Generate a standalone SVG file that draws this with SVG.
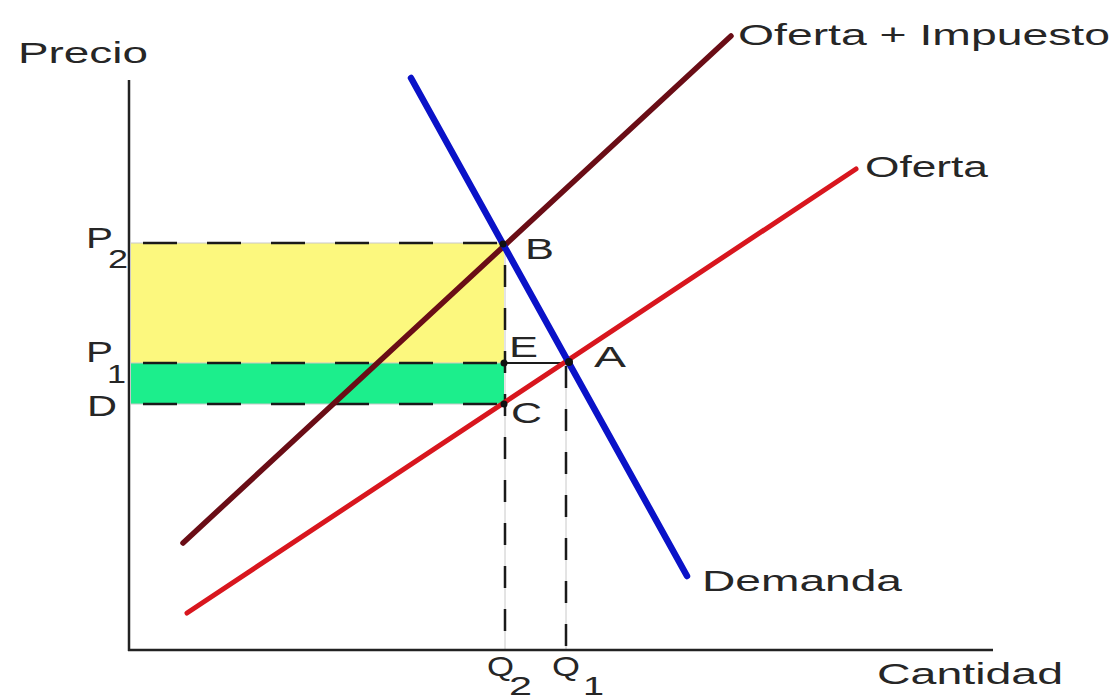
<svg xmlns="http://www.w3.org/2000/svg" width="1118" height="698" viewBox="0 0 1118 698">
<style>
text{font-family:"Liberation Sans",Arial,sans-serif;fill:#262626}
.lbl{font-size:30px}
.sub{font-size:25px}
.dh{stroke:#1a1a1a;stroke-width:2.5;stroke-dasharray:34 30;fill:none}
.dv{stroke:#1a1a1a;stroke-width:2.5;stroke-dasharray:22 21;fill:none}
.faint{stroke:#c8c8c8;stroke-width:1;fill:none}
.axis{stroke:#222;stroke-width:2.5;fill:none}
.dot{fill:#111}
</style>
<rect width="1118" height="698" fill="#ffffff"/>
<g id="areas">
<rect x="131" y="243" width="373" height="120" fill="#fcf87e"/>
<rect x="131" y="363" width="373" height="41" fill="#1cee8c"/>
</g>
<g id="guides">
<line class="faint" x1="131" y1="243" x2="503" y2="243"/>
<line class="faint" x1="131" y1="363" x2="503" y2="363"/>
<line class="faint" x1="131" y1="404" x2="503" y2="404"/>
<line class="faint" x1="505" y1="243" x2="505" y2="650"/>
<line class="faint" x1="566" y1="363" x2="566" y2="650"/>
<line class="dh" x1="143" y1="243" x2="500" y2="243"/>
<line class="dh" x1="143" y1="363" x2="500" y2="363"/>
<line class="dh" x1="143" y1="404" x2="500" y2="404"/>
<line x1="504" y1="363" x2="569" y2="363" stroke="#1a1a1a" stroke-width="1.8"/>
<line class="dv" x1="505" y1="265" x2="505" y2="648"/>
<line class="dv" x1="566" y1="366" x2="566" y2="648"/>
</g>
<g id="axes">
<line class="axis" x1="129" y1="80" x2="129" y2="651"/>
<line class="axis" x1="128" y1="650" x2="993" y2="650"/>
<text x="18" y="63" style="font-size:29px" textLength="130" lengthAdjust="spacingAndGlyphs">Precio</text>
<text x="877" y="684" class="lbl" textLength="186" lengthAdjust="spacingAndGlyphs">Cantidad</text>
</g>
<g id="connectors">
<line id="oferta-impuesto" x1="183" y1="543" x2="731" y2="36" stroke="#6a0d16" stroke-width="5.5" stroke-linecap="round"/>
<line id="oferta" x1="187" y1="613" x2="856" y2="169" stroke="#d8161e" stroke-width="5" stroke-linecap="round"/>
<line id="demanda" x1="411" y1="78" x2="687" y2="576" stroke="#0a12c8" stroke-width="6.5" stroke-linecap="round"/>
</g>
<g id="curve-labels">
<text x="738" y="45" class="lbl" textLength="372" lengthAdjust="spacingAndGlyphs">Oferta + Impuesto</text>
<text x="865" y="177" class="lbl" textLength="123" lengthAdjust="spacingAndGlyphs">Oferta</text>
<text x="702" y="591" class="lbl" textLength="200" lengthAdjust="spacingAndGlyphs">Demanda</text>
</g>
<g id="point-B">
<circle class="dot" cx="503" cy="244" r="3.5"/>
<text x="525" y="259" class="lbl" textLength="29" lengthAdjust="spacingAndGlyphs">B</text>
</g>
<g id="point-E">
<circle class="dot" cx="504" cy="363" r="3.5"/>
<text x="509" y="357" class="lbl" textLength="29" lengthAdjust="spacingAndGlyphs">E</text>
</g>
<g id="point-A">
<circle class="dot" cx="569" cy="362" r="4"/>
<text x="594" y="367" class="lbl" textLength="32" lengthAdjust="spacingAndGlyphs">A</text>
</g>
<g id="point-C">
<circle class="dot" cx="504" cy="404" r="3.5"/>
<text x="511" y="423" class="lbl" textLength="31" lengthAdjust="spacingAndGlyphs">C</text>
</g>
<g id="price-labels">
<text x="86" y="248" class="lbl" textLength="27" lengthAdjust="spacingAndGlyphs">P</text>
<text x="108" y="268" class="sub" textLength="20" lengthAdjust="spacingAndGlyphs">2</text>
<text x="86" y="362" class="lbl" textLength="27" lengthAdjust="spacingAndGlyphs">P</text>
<text x="107" y="383" class="sub" textLength="19" lengthAdjust="spacingAndGlyphs">1</text>
<text x="87" y="416" class="lbl" textLength="30" lengthAdjust="spacingAndGlyphs">D</text>
</g>
<g id="quantity-labels">
<text x="487" y="676" style="font-size:28px" textLength="27" lengthAdjust="spacingAndGlyphs">Q</text>
<text x="509" y="695" class="sub" textLength="23" lengthAdjust="spacingAndGlyphs">2</text>
<text x="552" y="676" style="font-size:28px" textLength="28" lengthAdjust="spacingAndGlyphs">Q</text>
<text x="583" y="695" class="sub" textLength="21" lengthAdjust="spacingAndGlyphs">1</text>
</g>
</svg>
